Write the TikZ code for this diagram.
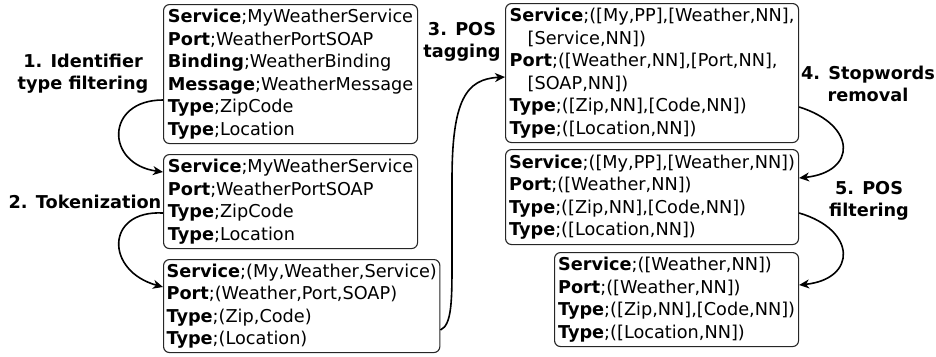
\documentclass[tikz,border=0pt]{standalone}
\usepackage{fontspec}
\setmainfont{DejaVu Sans}
\usetikzlibrary{arrows.meta}
\begin{document}
\begin{tikzpicture}[x=1pt,y=-1pt,
  box/.style={draw=black!85, line width=1.1pt, rounded corners=6pt, anchor=north west,
    align=left, inner xsep=3pt, inner ysep=4pt,
    font=\fontsize{17.7pt}{22.5pt}\selectfont},
  lbl/.style={align=center, inner sep=0pt, font=\fontsize{17.7pt}{22pt}\selectfont\bfseries},
  arr/.style={line width=1.6pt, -{Stealth[length=10pt,width=9pt,inset=3pt]}}]
\useasboundingbox (0,0) rectangle (936,356);

\node[box, minimum width=254pt, minimum height=139pt] (A) at (163,4)
  {\textbf{Service};MyWeatherService\\\textbf{Port};WeatherPortSOAP\\\textbf{Binding};WeatherBinding\\\textbf{Message};WeatherMessage\\\textbf{Type};ZipCode\\\textbf{Type};Location};
\node[box, minimum width=254pt, minimum height=94pt] (B) at (163,154)
  {\textbf{Service};MyWeatherService\\\textbf{Port};WeatherPortSOAP\\\textbf{Type};ZipCode\\\textbf{Type};Location};
\node[box, minimum width=276pt, minimum height=93pt] (C) at (163,259)
  {\textbf{Service};(My,Weather,Service)\\\textbf{Port};(Weather,Port,SOAP)\\\textbf{Type};(Zip,Code)\\\textbf{Type};(Location)};
\node[box, minimum width=293pt, minimum height=139pt] (D) at (505,3)
  {\textbf{Service};([My,PP],[Weather,NN],\\\hspace*{18pt}[Service,NN])\\\textbf{Port};([Weather,NN],[Port,NN],\\\hspace*{18pt}[SOAP,NN])\\\textbf{Type};([Zip,NN],[Code,NN])\\\textbf{Type};([Location,NN])};
\node[box, minimum width=293pt, minimum height=95pt] (E) at (505,149)
  {\textbf{Service};([My,PP],[Weather,NN])\\\textbf{Port};([Weather,NN])\\\textbf{Type};([Zip,NN],[Code,NN])\\\textbf{Type};([Location,NN])};
\node[box, minimum width=244pt, minimum height=94pt] (F) at (554,252)
  {\textbf{Service};([Weather,NN])\\\textbf{Port};([Weather,NN])\\\textbf{Type};([Zip,NN],[Code,NN])\\\textbf{Type};([Location,NN])};

\node[lbl] (L1) at (83,74) {1. Identifier\\type filtering};
\node[lbl] (L2) at (85,202) {2. Tokenization};
\node[lbl] (L3) at (462,42) {3. POS\\tagging};
\node[lbl] (L4) at (868,84) {4. Stopwords\\removal};
\node[lbl] (L5) at (869,201) {5. POS\\filtering};

\draw[arr] (A.west |- 0,100) .. controls (105,100) and (105,164) .. (B.west |- 0,172);
\draw[arr] (B.west |- 0,213) .. controls (105,210) and (105,271) .. (C.west |- 0,287);
\draw[arr] (C.east |- 0,330) .. controls (452,325) and (452,300) .. (452,260) -- (452,180)
  .. controls (452,100) and (466,79) .. (D.west |- 0,77);
\draw[arr] (D.east |- 0,107) .. controls (857,125) and (857,172) .. (E.east |- 0,178);
\draw[arr] (E.east |- 0,213) .. controls (857,230) and (857,279) .. (F.east |- 0,285);
\end{tikzpicture}
\end{document}
